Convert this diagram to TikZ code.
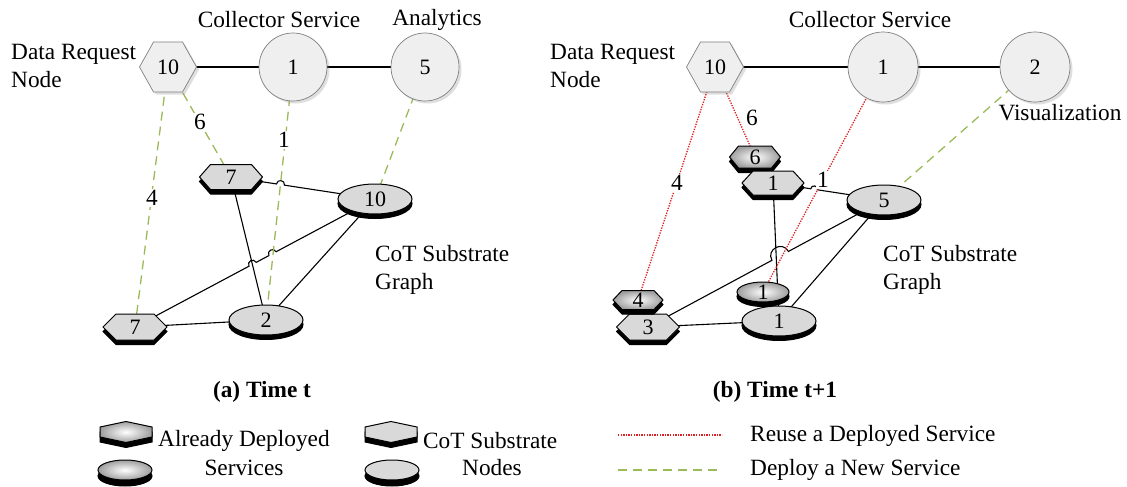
\documentclass[tikz,border=0pt]{standalone}
\usepackage{fontspec}
\setmainfont{Liberation Serif}
\newfontfamily\tnr{Liberation Serif}
\usetikzlibrary{calc,shadows}
\pgfdeclarelayer{bg}
\pgfdeclarelayer{edges}
\pgfdeclarelayer{shapes}
\pgfsetlayers{bg,edges,shapes,main}
\definecolor{topfill}{HTML}{EFEFEF}
\definecolor{topline}{HTML}{808080}
\definecolor{subfill}{HTML}{D9D9D9}
\definecolor{dgreen}{HTML}{9BBB59}
\definecolor{dred}{HTML}{E02020}
\tikzset{
  lab/.style={font=\tnr\fontsize{23.3}{28}\selectfont, inner sep=0pt},
  num/.style={font=\tnr\fontsize{22}{26}\selectfont, inner sep=0pt},
  edge/.style={draw=black, line width=1.1pt},
  newsvc/.style={draw=dgreen, line width=1.3pt, dash pattern=on 9pt off 6pt},
  reuse/.style={draw=dred, line width=1.3pt, dash pattern=on 1.3pt off 1.3pt},
  onlab/.style={lab, fill=white, inner sep=1.5pt},
  topshape/.style={fill=topfill, draw=topline, line width=0.7pt, drop shadow={opacity=0.25, shadow xshift=2.5pt, shadow yshift=-2.5pt}},
  subshape/.style={fill=subfill, draw=black, line width=1pt},
  depshape/.style={shade, inner color=white, outer color=black!38, draw=black, line width=1pt},
  base/.style={fill=black, draw=black, line width=1pt},
}
% style, name, x, y, half width, half height, inset, label
\newcommand\HexN[8]{%
  \node[num] (#2) at (#3,#4) {#8};
  \begin{pgfonlayer}{shapes}
  \path[base, shift={(#3,#4+4.5)}] (-#5,0) -- ({-#5+#7},-#6) -- ({#5-#7},-#6) -- (#5,0) -- ({#5-#7},#6) -- ({-#5+#7},#6) -- cycle;
  \path[#1, shift={(#3,#4)}] (-#5,0) -- ({-#5+#7},-#6) -- ({#5-#7},-#6) -- (#5,0) -- ({#5-#7},#6) -- ({-#5+#7},#6) -- cycle;
  \end{pgfonlayer}}
% style, name, x, y, rx, ry, label
\newcommand\EllN[7]{%
  \node[num] (#2) at (#3,#4) {#7};
  \begin{pgfonlayer}{shapes}
  \path[base] (#3,#4+4.5) ellipse[x radius=#5, y radius=#6];
  \path[#1] (#3,#4) ellipse[x radius=#5, y radius=#6];
  \end{pgfonlayer}}
\newcommand\TopHex[4]{%
  \node[num] (#1) at (#2,#3) {#4};
  \begin{pgfonlayer}{shapes}
  \path[topshape, shift={(#2,#3)}] (-28.5,0) -- (-14.5,-25) -- (14.5,-25) -- (28.5,0) -- (14.5,25) -- (-14.5,25) -- cycle;
  \end{pgfonlayer}}
\newcommand\TopCirc[5]{%
  \node[num] (#1) at (#2,#3) {#5};
  \begin{pgfonlayer}{shapes}
  \path[topshape] (#2,#3) circle[radius=#4];
  \end{pgfonlayer}}
% legend icons: style, x, y
\newcommand\LegHex[3]{%
  \path[base, shift={(#2,#3+5)}] (-26,-5) -- (0,-10.5) -- (26,-5) -- (26,5) -- (0,10.5) -- (-26,5) -- cycle;
  \path[#1, shift={(#2,#3)}] (-26,-5) -- (0,-10.5) -- (26,-5) -- (26,5) -- (0,10.5) -- (-26,5) -- cycle;}
\newcommand\LegEll[3]{%
  \path[base] (#2,#3+6) ellipse[x radius=27, y radius=10];
  \path[#1] (#2,#3) ellipse[x radius=27, y radius=10];}
\begin{document}
\begin{tikzpicture}[x=1pt,y=-1pt]
\useasboundingbox (0,0) rectangle (1127,487);
\begin{pgfonlayer}{bg}
\fill[white] (0,0) rectangle (1127,487);
\end{pgfonlayer}

% ---------------- (a) ----------------
\TopHex{La}{168}{67}{10}
\TopCirc{Lb}{293}{67}{34}{1}
\TopCirc{Lc}{425}{67}{34}{5}
\HexN{subshape}{Ld}{231}{177}{31.5}{12.5}{11}{7}
\EllN{subshape}{Le}{375}{199}{37}{15}{10}
\EllN{subshape}{Lf}{266}{320}{37}{15}{2}
\HexN{subshape}{Lg}{135}{327}{32}{13}{13}{7}

\node[lab, anchor=west, align=left] (Ltxt) at (11,66) {Data Request\\Node};
\node[lab] (Lcoll) at (279,20) {Collector Service};
\node[lab] (Lana) at (437,20) {Analytics};
\node[lab, anchor=west, align=left] (Lcot) at (375,270) {CoT Substrate\\Graph};

\begin{pgfonlayer}{edges}
\draw[edge] (La.center) -- (Lb.center) -- (Lc.center);
\draw[edge] (Ld.center) -- ($(Ld.center)!0.316!(Le.center)$) to[bend left=90,looseness=1.7] ($(Ld.center)!0.371!(Le.center)$) -- (Le.center);
\draw[edge] (Ld.center) -- (Lf.center);
\draw[edge] (Lg.center) -- ($(Lg.center)!0.475!(Le.center)$) to[bend left=90,looseness=1.7] ($(Lg.center)!0.505!(Le.center)$) -- ($(Lg.center)!0.558!(Le.center)$) to[bend left=90,looseness=1.7] ($(Lg.center)!0.588!(Le.center)$) -- (Le.center);
\draw[edge] (Lg.center) -- (Lf.center);
\draw[edge] (Lf.center) -- (Le.center);
\draw[newsvc] (La.center) -- (Lg.center);
\draw[newsvc] (La.center) -- (Ld.center);
\draw[newsvc] (Lb.center) -- (Lf.center);
\draw[newsvc] (Lc.center) -- (Le.center);
\end{pgfonlayer}
\node[onlab] (L4) at (152,198) {4};
\node[onlab] (L6) at (200,122) {6};
\node[onlab] (L1) at (284,140) {1};

% ---------------- (b) ----------------
\TopHex{Ra}{715}{67}{10}
\TopCirc{Rb}{883}{67}{35}{1}
\TopCirc{Rc}{1035}{67}{35}{2}
\HexN{depshape}{Rd}{755}{157}{25.5}{11}{9}{6}
\HexN{subshape}{Re}{773}{183}{31}{12}{11}{1}
\EllN{subshape}{Rf}{884}{200}{37}{15}{5}
\EllN{subshape}{Rg}{779}{321}{37}{15}{1}
\EllN{depshape}{Rh}{763}{292}{26}{10}{1}
\HexN{subshape}{Ri}{648}{327}{31.5}{13}{13}{3}
\HexN{depshape}{Rj}{638}{300}{25}{9.5}{9}{4}

\node[lab, anchor=west, align=left] (Rtxt) at (550,66) {Data Request\\Node};
\node[lab] (Rcoll) at (870,20) {Collector Service};
\node[lab] (Rvis) at (1060,113) {Visualization};
\node[lab, anchor=west, align=left] (Rcot) at (883,270) {CoT Substrate\\Graph};

\begin{pgfonlayer}{edges}
\draw[edge] (Ra.center) -- (Rb.center) -- (Rc.center);
\draw[edge] (Re.center) -- ($(Re.center)!0.34!(Rf.center)$) to[bend left=90,looseness=1.7] ($(Re.center)!0.40!(Rf.center)$) -- (Rf.center);
\draw[edge] (Re.center) -- (Rg.center);
\draw[edge] (Ri.center) -- ($(Ri.center)!0.525!(Rf.center)$) to[bend left=90,looseness=1.7] ($(Ri.center)!0.595!(Rf.center)$) -- (Rf.center);
\draw[edge] (Ri.center) -- (Rg.center);
\draw[edge] (Rg.center) -- (Rf.center);
\draw[reuse] (Ra.center) -- (Rj.center);
\draw[reuse] (Ra.center) -- (Rd.center);
\draw[reuse] (Rb.center) -- (Rh.center);
\draw[newsvc] (Rc.center) -- (Rf.center);
\end{pgfonlayer}
\node[onlab] (R4) at (677,183) {4};
\node[onlab] (R6) at (752,118) {6};
\node[onlab] (R1) at (823,180) {1};

% ---------------- captions ----------------
\node[lab, font=\tnr\fontsize{23.3}{28}\selectfont\bfseries] (capa) at (262,392) {(a) Time t};
\node[lab, font=\tnr\fontsize{23.3}{28}\selectfont\bfseries] (capb) at (775,392) {(b) Time t+1};

% ---------------- legend ----------------
\LegHex{depshape}{126}{432}
\LegEll{depshape}{125}{470}
\LegHex{subshape}{391}{432}
\LegEll{subshape}{392}{470}
\node[lab, anchor=west] (lg1) at (158,441) {Already Deployed};
\node[lab] (lg2) at (244,468) {Services};
\node[lab, anchor=west] (lg3) at (423,441) {CoT Substrate};
\node[lab] (lg4) at (492,468) {Nodes};
\coordinate (ra) at (618,435);
\coordinate (rb) at (722,435);
\coordinate (ga) at (618,470);
\coordinate (gb) at (717,470);
\draw[reuse] (ra) -- (rb);
\draw[newsvc] (ga) -- (gb);
\node[lab, anchor=west] (lg5) at (750,436) {Reuse a Deployed Service};
\node[lab, anchor=west] (lg6) at (750,470) {Deploy a New Service};
\end{tikzpicture}
\end{document}
